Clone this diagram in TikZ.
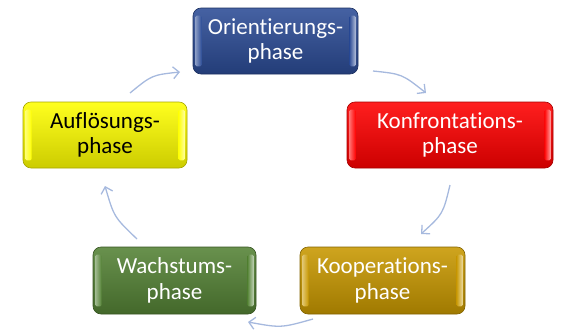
\documentclass[tikz,border=0pt]{standalone}
\usepackage{fontspec}
\setmainfont{Carlito}[Ligatures={NoCommon}]
\usetikzlibrary{arrows.meta,calc}
\definecolor{cblue}{RGB}{44,76,150}
\definecolor{cred}{RGB}{255,0,0}
\definecolor{cgold}{RGB}{200,152,0}
\definecolor{cgreen}{RGB}{84,130,53}
\definecolor{cyellow}{RGB}{255,255,0}
\definecolor{arrowblue}{RGB}{166,185,222}
\newcommand\glossy[8]{%
  \node[phasebox, text=#7, draw=#6!65!black,
        top color=#6!88!white, middle color=#6, bottom color=#6!80!black,
        minimum width={(#4-#2)*1pt}, minimum height={(#5-#3)*1pt}]
        (#1) at ({(#2+#4)/2},{(#3+#5)/2}) {#8};
  \shade[left color=#6!55!white, right color=#6, rounded corners=1.5pt]
        ($(#1.north west)+(2.5,8)$) rectangle ($(#1.south west)+(9,-8)$);
  \shade[left color=#6, right color=#6!35!white, rounded corners=1.5pt]
        ($(#1.north east)+(-9,8)$) rectangle ($(#1.south east)+(-2.5,-8)$);
}
\begin{document}
\begin{tikzpicture}[x=1pt,y=-1pt,
  phasebox/.style={rounded corners=8pt, align=center, inner sep=0pt,
    line width=0.6pt, font=\fontsize{23}{25.5}\selectfont},
  cyc/.style={draw=arrowblue, line width=1.3pt,
    -{Straight Barb[length=6pt,width=12pt,line width=1.3pt]}}]
\useasboundingbox (0,0) rectangle (562,332);

\glossy{o}{193}{8}{358}{74}{cblue}{white}{Orientierungs-\\phase}
\glossy{k}{347}{102}{553}{168}{cred}{white}{Konfrontations-\\phase}
\glossy{ko}{300}{247}{465}{314}{cgold}{white}{Kooperations-\\phase}
\glossy{w}{93}{247}{256}{314}{cgreen}{white}{Wachstums-\\phase}
\glossy{a}{23}{102}{187}{168}{cyellow}{black}{Auflösungs-\\phase}

\coordinate (s1) at (130,93);  \coordinate (e1) at (180,72);
\coordinate (s2) at (373,71);  \coordinate (e2) at (426,93);
\coordinate (s3) at (450,185); \coordinate (e3) at (421,234);
\coordinate (s4) at (313,319); \coordinate (e4) at (248,322);
\coordinate (s5) at (137,239); \coordinate (e5) at (105,186);

\draw[cyc] (s1) .. controls (152,75) .. (e1);
\draw[cyc] (s2) .. controls (402,74) .. (e2);
\draw[cyc] (s3) .. controls (443,214) .. (e3);
\draw[cyc] (s4) .. controls (281,328) .. (e4);
\draw[cyc] (s5) .. controls (114,217) .. (e5);
\end{tikzpicture}
\end{document}
